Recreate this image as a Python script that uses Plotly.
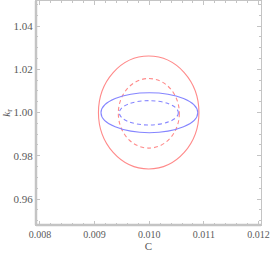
import plotly.graph_objects as go

# Contour bounding boxes (C range, k_r range)
contour_names = ["red 2σ", "red 1σ", "blue 2σ", "blue 1σ"]
c_low = [0.00907, 0.009434, 0.009117, 0.009452]
c_high = [0.01091, 0.010551, 0.010888, 0.010533]
k_low = [0.97387, 0.98353, 0.99066, 0.99422]
k_high = [1.02613, 1.01572, 1.00916, 1.00549]
contour_colors = ["#ff8a8a", "#ff8a8a", "#8585ff", "#8585ff"]
contour_dash = ["solid", "4px,3px", "solid", "4px,3px"]

x_ticks = [0.008, 0.009, 0.010, 0.011, 0.012]
x_tick_labels = ["0.008", "0.009", "0.010", "0.011", "0.012"]
y_ticks = [0.96, 0.98, 1.00, 1.02, 1.04]
y_tick_labels = ["0.96", "0.98", "1.00", "1.02", "1.04"]

x_range = [0.007927, 0.012046]
y_range = [0.94798, 1.05156]

fig = go.Figure()
fig.add_trace(go.Scatter(x=[0.01], y=[1.0], mode="markers", marker=dict(opacity=0),
                         hoverinfo="skip", showlegend=False))

for i in range(len(contour_names)):
    fig.add_shape(type="circle", xref="x", yref="y",
                  x0=c_low[i], x1=c_high[i], y0=k_low[i], y1=k_high[i],
                  line=dict(color=contour_colors[i], width=1.1, dash=contour_dash[i]))

frame_col = "#c4c4c4"
serif = "Liberation Serif"
label_col = "#5a5a5a"
axis_common = dict(showgrid=False, zeroline=False, showline=True, linecolor=frame_col,
                   linewidth=1, mirror="ticks", ticks="inside", ticklen=4, tickwidth=1,
                   tickcolor=frame_col)

fig.update_xaxes(range=x_range, tickvals=x_ticks, ticktext=x_tick_labels,
                 tickfont=dict(family=serif, size=10, color=label_col),
                 minor=dict(dtick=0.0002, tick0=0.008, ticks="inside", ticklen=2, tickcolor=frame_col),
                 title=dict(text="C", font=dict(family=serif, size=11, color=label_col), standoff=3),
                 **axis_common)
fig.update_yaxes(range=y_range, tickvals=y_ticks, ticktext=y_tick_labels,
                 tickfont=dict(family=serif, size=11, color=label_col),
                 minor=dict(dtick=0.005, tick0=0.96, ticks="inside", ticklen=2, tickcolor=frame_col),
                 title=dict(text="<i>k</i><sub>r</sub>", font=dict(family=serif, size=11, color=label_col), standoff=2),
                 **axis_common)

# thicker left and bottom frame edges
fig.add_shape(type="line", xref="paper", yref="paper", x0=0, x1=0, y0=0, y1=1,
              line=dict(color=frame_col, width=2.5))
fig.add_shape(type="line", xref="paper", yref="paper", x0=0, x1=1, y0=0, y1=0,
              line=dict(color=frame_col, width=2.5))

fig.update_layout(width=270, height=255, margin=dict(l=36, r=9, t=1, b=30),
                  plot_bgcolor="white", paper_bgcolor="white", showlegend=False)

fig.write_html("out.html", config={"displayModeBar": False},
               post_script="document.body.style.margin='0';document.body.style.overflow='hidden';")
